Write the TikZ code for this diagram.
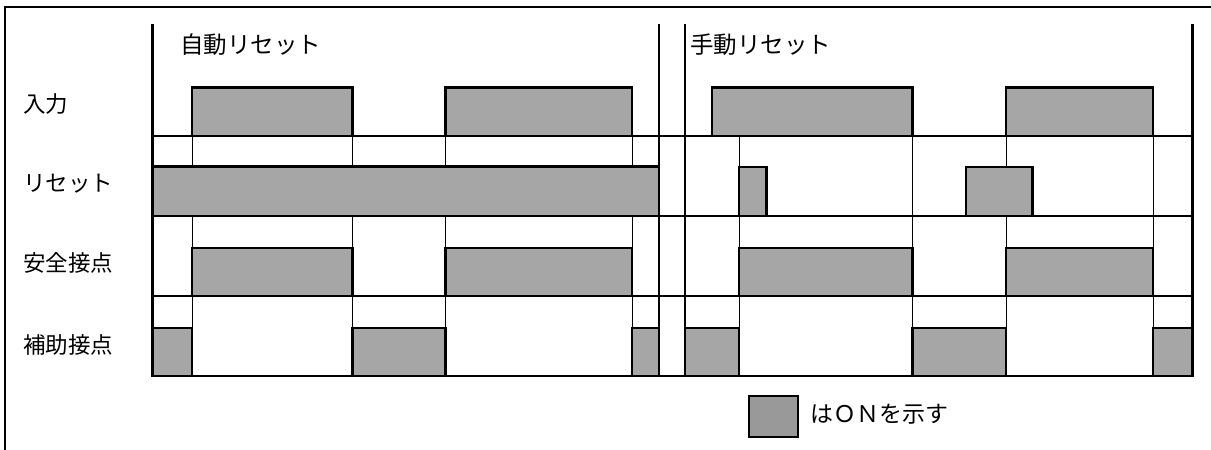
\documentclass[tikz,border=0pt]{standalone}
\usepackage{fontspec}
\setmainfont{Noto Sans CJK JP}
\definecolor{pulsegray}{HTML}{A6A6A6}
\definecolor{legendgray}{HTML}{999999}
\begin{document}
\begin{tikzpicture}[x=1pt,y=-1pt,
  pulse/.style={fill=pulsegray, draw=black, line width=2.5pt},
  sect/.style={line width=2.5pt},
  base/.style={line width=2.3pt},
  gridln/.style={line width=0.9pt},
  frameln/.style={line width=2.2pt},
  lbl/.style={anchor=base west, inner sep=0pt, font=\fontsize{22.5}{27}\selectfont},
  hdr/.style={anchor=base west, inner sep=0pt, font=\fontsize{23.5}{28}\selectfont}]
\useasboundingbox (0,0) rectangle (1211,450);
% outer frame
\draw[frameln] (5,460) -- (5,7) -- (1220,7);
% thin grid lines at transitions
\foreach \x in {192,352.7,445.5,632,739,912.5,1006,1153}
  \draw[gridln] (\x,136) -- (\x,376);
% input row
\draw[pulse] (192,87.5) rectangle (352.7,136);
\draw[pulse] (445.5,87.5) rectangle (632,136);
\draw[pulse] (712,87.5) rectangle (912.5,136);
\draw[pulse] (1006,87.5) rectangle (1153,136);
% reset row
\draw[pulse] (152.7,166.5) rectangle (659,216);
\draw[pulse] (739,167) rectangle (766.4,216);
\draw[pulse] (966,167) rectangle (1032.6,216);
% safety contact row
\draw[pulse] (192,248) rectangle (352.7,296);
\draw[pulse] (445.5,248) rectangle (632,296);
\draw[pulse] (739,248) rectangle (912.5,296);
\draw[pulse] (1006,248) rectangle (1153,296);
% auxiliary contact row
\draw[pulse] (152.7,328) rectangle (192,376);
\draw[pulse] (352.7,328) rectangle (445.5,376);
\draw[pulse] (632,328) rectangle (659,376);
\draw[pulse] (685,328) rectangle (739,376);
\draw[pulse] (912.5,328) rectangle (1006,376);
\draw[pulse] (1153,328) rectangle (1192.4,376);
% baselines
\foreach \y in {136,216,296,376}
  \draw[base] (152.7,\y) -- (1192.4,\y);
% section lines
\foreach \x in {152.7,659,685,1192.4}
  \draw[sect] (\x,24) -- (\x,376);
% headers
\node[hdr] (hauto) at (180,53.5) {自動リセット};
\node[hdr] (hman) at (690,53.5) {手動リセット};
% row labels
\node[lbl] (lin) at (23,112) {入力};
\node[lbl] (lrs) at (23,191.5) {リセット};
\node[lbl] (lsf) at (23,271) {安全接点};
\node[lbl] (lax) at (23,353.5) {補助接点};
% legend
\draw[fill=legendgray, line width=2.2pt] (749.3,396) rectangle (798.3,436.7);
\node[lbl, font=\fontsize{23}{28}\selectfont] (leg) at (810,422) {はＯＮを示す};
\end{tikzpicture}
\end{document}
